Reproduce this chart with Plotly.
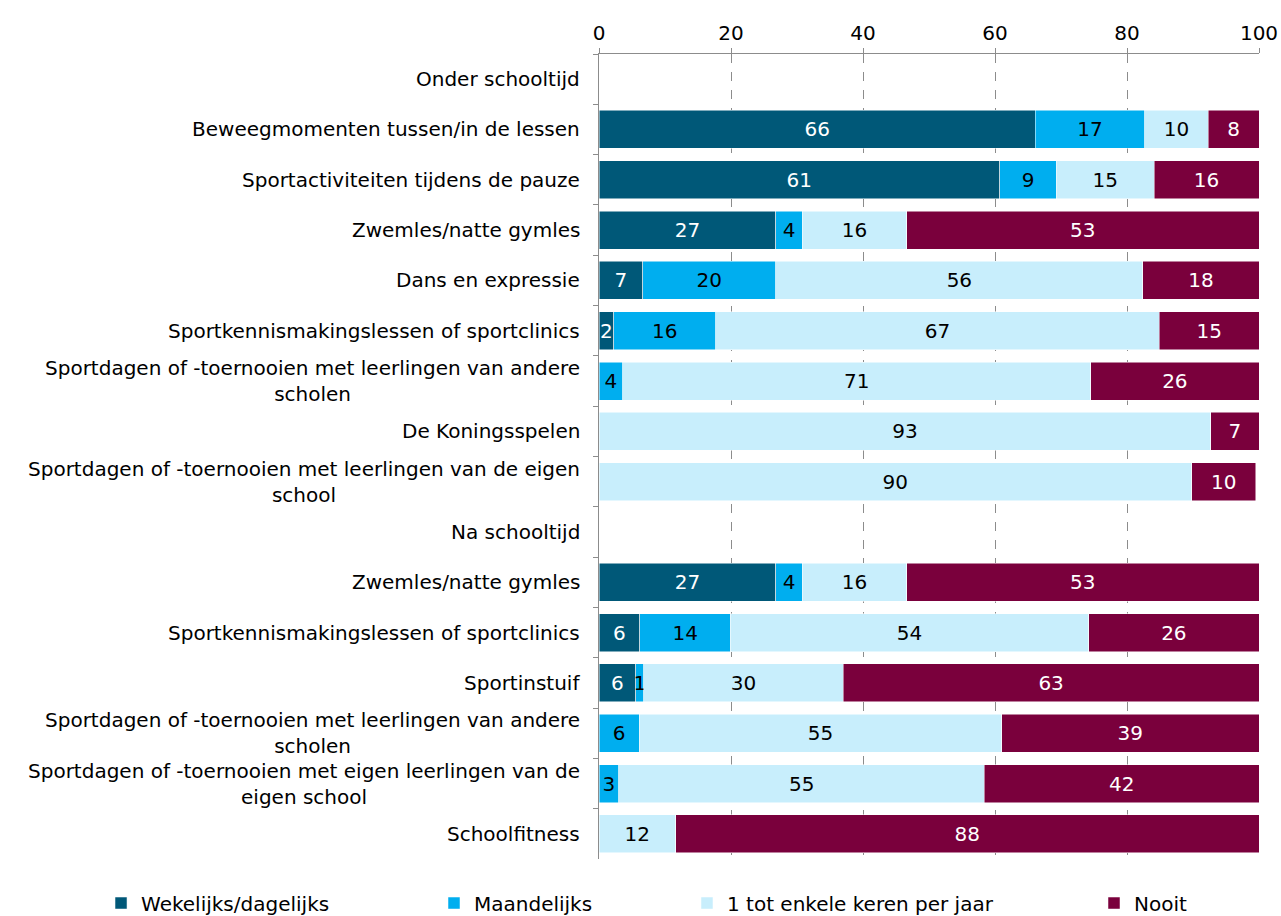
import plotly.graph_objects as go

categories = [
    "Onder schooltijd",
    "Beweegmomenten tussen/in de lessen",
    "Sportactiviteiten tijdens de pauze",
    "Zwemles/natte gymles",
    "Dans en expressie",
    "Sportkennismakingslessen of sportclinics",
    "Sportdagen of -toernooien met leerlingen van andere<br>scholen",
    "De Koningsspelen",
    "Sportdagen of -toernooien met leerlingen van de eigen<br>school",
    "Na schooltijd",
    "Zwemles/natte gymles",
    "Sportkennismakingslessen of sportclinics",
    "Sportinstuif",
    "Sportdagen of -toernooien met leerlingen van andere<br>scholen",
    "Sportdagen of -toernooien met eigen leerlingen van de<br>eigen school",
    "Schoolfitness",
]

weekly = [None, 66.1, 60.7, 26.8, 6.6, 2.2, None, None, None, None, 26.8, 6.2, 5.6, None, None, None]
monthly = [None, 16.6, 8.6, 4.0, 20.2, 15.5, 3.6, None, None, None, 4.0, 13.7, 1.2, 6.1, 3.0, None]
yearly = [None, 9.6, 14.8, 15.8, 55.6, 67.2, 70.9, 92.7, 89.8, None, 15.8, 54.3, 30.2, 54.9, 55.4, 11.6]
never = [None, 7.7, 15.9, 53.4, 17.6, 15.1, 25.5, 7.3, 9.7, None, 53.4, 25.8, 63.0, 39.0, 41.6, 88.4]

series_names = ["Wekelijks/dagelijks", "Maandelijks", "1 tot enkele keren per jaar", "Nooit"]
series_values = [weekly, monthly, yearly, never]
colors = ["#005878", "#00AEEF", "#C8EEFC", "#7A003C"]
text_colors = ["white", "black", "black", "white"]
legend_ids = ["legend", "legend2", "legend3", "legend4"]
legend_x = [-0.7545, -0.25, 0.1333, 0.75]

FONT = "DejaVu Sans"
FS = 20
ids = [f"r{i}" for i in range(len(categories))]

fig = go.Figure()
for name, vals, col, tc, lid in zip(series_names, series_values, colors, text_colors, legend_ids):
    fig.add_trace(go.Bar(
        y=ids, x=vals, name=name, orientation="h",
        marker=dict(color=col, line=dict(color="white", width=0.5)),
        texttemplate="%{x:.0f}", textposition="inside", insidetextanchor="middle",
        insidetextfont=dict(color=tc, size=FS, family=FONT),
        legend=lid, showlegend=True, hoverinfo="x+name",
    ))

annotations = []
for cid, lab in zip(ids, categories):
    annotations.append(dict(
        x=0, xref="paper", y=cid, yref="y", text=lab, showarrow=False,
        xanchor="right", align="center", xshift=-17,
        font=dict(size=FS, family=FONT, color="black"),
    ))

layout = dict(
    width=1281, height=916,
    margin=dict(l=599, r=22, t=54, b=57, autoexpand=False),
    paper_bgcolor="white", plot_bgcolor="white",
    showlegend=True,
    barmode="stack", bargap=0.245,
    font=dict(family=FONT, size=FS, color="black"),
    uniformtext=dict(minsize=FS, mode="show"),
    xaxis=dict(side="top", range=[0, 100], dtick=20, showgrid=True, griddash="dash",
               gridcolor="#8c8c8c", gridwidth=1, showline=True, linecolor="#8c8c8c",
               ticks="outside", ticklen=5, tickcolor="#8c8c8c", zeroline=False,
               tickfont=dict(size=FS, family=FONT)),
    yaxis=dict(type="category", autorange="reversed", tickson="boundaries",
               ticks="outside", ticklen=5, tickcolor="#8c8c8c", showline=True,
               linecolor="#8c8c8c", showticklabels=False, showgrid=False),
    annotations=annotations,
)
for lid, lx in zip(legend_ids, legend_x):
    layout[lid] = dict(x=lx, y=-0.0547, xanchor="left", yanchor="middle",
                       orientation="h", font=dict(size=FS, family=FONT),
                       bgcolor="rgba(0,0,0,0)", itemwidth=30)
fig.update_layout(**layout)
fig.write_html(
    "out.html",
    config={"displayModeBar": False},
    post_script="document.body.style.margin='0';document.body.style.overflow='hidden';",
)
